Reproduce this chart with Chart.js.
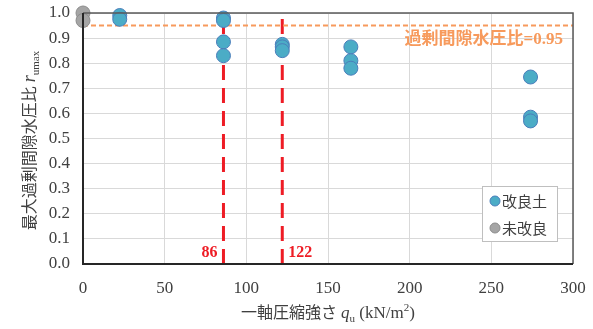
<!DOCTYPE html>
<html>
<head>
<meta charset="utf-8">
<script src="https://cdn.jsdelivr.net/npm/chart.js@4/dist/chart.umd.min.js"></script>
<style>
  html, body { margin: 0; padding: 0; background: #fff; }
  #wrap { width: 593px; height: 329px; position: relative; }
</style>
</head>
<body>
<div id="wrap"><canvas id="c"></canvas></div>
<script>
// データ
var qImproved = [22.5, 22.5, 86, 86, 86, 86, 122, 122, 122, 164, 164, 164, 274, 274, 274];
var rImproved = [0.99, 0.975, 0.98, 0.97, 0.885, 0.83, 0.875, 0.865, 0.85, 0.865, 0.81, 0.78, 0.745, 0.585, 0.57];
var qUnimproved = [0, 0];
var rUnimproved = [1.0, 0.97];
var seriesLabels = ['改良土', '未改良'];
var thresholdR = 0.95;
var markQ = [86, 122];
var xTicks = [0, 50, 100, 150, 200, 250, 300];
var yTicks = [0, 0.1, 0.2, 0.3, 0.4, 0.5, 0.6, 0.7, 0.8, 0.9, 1.0];

var SERIF = '"Liberation Serif", "Noto Sans CJK JP", serif';
var TXT = '#404040';
var BLUE = '#4bacc6', BLUE_B = '#4a7ebb';
var GRAY = '#a5a5a5', GRAY_B = '#8c8c8c';
var RED = '#ee1c25', ORANGE = '#f79a5c';

function pts(xs, ys) {
  return xs.map(function (x, i) { return { x: x, y: ys[i] }; });
}

// 軸タイトル・ラベル・凡例を描く
function drawRuns(ctx, runs, x, y, align) {
  var total = 0;
  runs.forEach(function (r) { ctx.font = r.font; total += ctx.measureText(r.t).width; });
  var cx = align === 'center' ? x - total / 2 : x;
  runs.forEach(function (r) {
    ctx.font = r.font;
    ctx.fillText(r.t, cx, y + (r.dy || 0));
    cx += ctx.measureText(r.t).width;
  });
}

var extras = {
  id: 'extras',
  afterDraw: function (chart) {
    var ctx = chart.ctx, a = chart.chartArea;
    var xs = chart.scales.x, ys = chart.scales.y;
    ctx.save();
    // 枠
    ctx.strokeStyle = '#595959';
    ctx.lineWidth = 1.5;
    ctx.beginPath();
    ctx.moveTo(a.left, a.top); ctx.lineTo(a.right, a.top); ctx.lineTo(a.right, a.bottom);
    ctx.stroke();
    ctx.strokeStyle = '#262626';
    ctx.lineWidth = 2;
    ctx.beginPath();
    ctx.moveTo(a.left, a.top); ctx.lineTo(a.left, a.bottom); ctx.lineTo(a.right, a.bottom);
    ctx.stroke();

    // 値ラベル
    ctx.textBaseline = 'middle';
    ctx.fillStyle = RED;
    ctx.font = 'bold 16px ' + SERIF;
    ctx.textAlign = 'right';
    ctx.fillText(String(markQ[0]), xs.getPixelForValue(markQ[0]) - 6, ys.getPixelForValue(0.045));
    ctx.textAlign = 'left';
    ctx.fillText(String(markQ[1]), xs.getPixelForValue(markQ[1]) + 6, ys.getPixelForValue(0.045));

    ctx.fillStyle = ORANGE;
    ctx.font = 'bold 17px ' + SERIF;
    ctx.textAlign = 'right';
    ctx.fillText('過剰間隙水圧比=' + thresholdR, a.right - 10, ys.getPixelForValue(0.895));

    // x軸タイトル
    ctx.fillStyle = TXT;
    ctx.textAlign = 'left';
    ctx.textBaseline = 'alphabetic';
    drawRuns(ctx, [
      { t: '一軸圧縮強さ ', font: '16px ' + SERIF },
      { t: 'q', font: 'italic 17px ' + SERIF },
      { t: 'u', font: '11px ' + SERIF, dy: 4 },
      { t: ' (kN/m', font: '17px ' + SERIF },
      { t: '2', font: '11px ' + SERIF, dy: -7 },
      { t: ')', font: '17px ' + SERIF }
    ], (a.left + a.right) / 2, 318, 'center');

    // y軸タイトル
    ctx.save();
    ctx.translate(35, (a.top + a.bottom) / 2 + 2);
    ctx.rotate(-Math.PI / 2);
    drawRuns(ctx, [
      { t: '最大過剰間隙水圧比 ', font: '16px ' + SERIF },
      { t: 'r', font: 'italic 18px ' + SERIF },
      { t: 'umax', font: '11px ' + SERIF, dy: 4 }
    ], 0, 0, 'center');
    ctx.restore();

    // 凡例
    var lx = 482, ly = 186, lw = 75, lh = 55;
    ctx.fillStyle = '#fff';
    ctx.fillRect(lx, ly, lw, lh);
    ctx.strokeStyle = '#bfbfbf';
    ctx.lineWidth = 1;
    ctx.strokeRect(lx + 0.5, ly + 0.5, lw, lh);
    var cols = [[BLUE, BLUE_B], [GRAY, GRAY_B]];
    seriesLabels.forEach(function (lab, i) {
      var yy = ly + 15 + i * 27;
      ctx.beginPath();
      ctx.arc(lx + 13, yy, 5, 0, Math.PI * 2);
      ctx.fillStyle = cols[i][0];
      ctx.fill();
      ctx.strokeStyle = cols[i][1];
      ctx.stroke();
      ctx.fillStyle = TXT;
      ctx.font = '15px "Noto Sans CJK JP", sans-serif';
      ctx.textAlign = 'left';
      ctx.textBaseline = 'middle';
      ctx.fillText(lab, lx + 20, yy);
    });
    ctx.restore();
  }
};

new Chart(document.getElementById('c'), {
  type: 'scatter',
  data: {
    datasets: [
      {
        label: seriesLabels[0], data: pts(qImproved, rImproved), order: 0,
        backgroundColor: BLUE, borderColor: BLUE_B, borderWidth: 1, pointRadius: 7, clip: false
      },
      {
        label: seriesLabels[1], data: pts(qUnimproved, rUnimproved), order: 1,
        backgroundColor: GRAY, borderColor: GRAY_B, borderWidth: 1, pointRadius: 7, clip: false
      },
      {
        type: 'line', label: 'thr', order: 5,
        data: [{ x: 0, y: thresholdR }, { x: 300, y: thresholdR }],
        borderColor: ORANGE, borderWidth: 2, borderDash: [5, 3], pointRadius: 0, showLine: true
      },
      {
        type: 'line', label: 'm1', order: 5,
        data: [{ x: markQ[0], y: 0 }, { x: markQ[0], y: 1 }],
        borderColor: RED, borderWidth: 3, borderDash: [15, 8], pointRadius: 0, showLine: true
      },
      {
        type: 'line', label: 'm2', order: 5,
        data: [{ x: markQ[1], y: 0 }, { x: markQ[1], y: 1 }],
        borderColor: RED, borderWidth: 3, borderDash: [15, 8], pointRadius: 0, showLine: true
      }
    ]
  },
  options: {
    responsive: true,
    maintainAspectRatio: false,
    animation: false,
    events: [],
    layout: { autoPadding: false, padding: { top: 13, right: 20, left: 0, bottom: 0 } },
    plugins: { legend: { display: false }, tooltip: { enabled: false } },
    scales: {
      x: {
        type: 'linear', min: 0, max: 300,
        afterBuildTicks: function (s) { s.ticks = xTicks.map(function (v) { return { value: v }; }); },
        afterFit: function (s) { s.height = 65; s.paddingLeft = 0; s.paddingRight = 0; },
        grid: { color: '#d9d9d9', lineWidth: 1, drawTicks: false },
        border: { display: false },
        ticks: { padding: 14, color: TXT, font: { family: SERIF, size: 17 }, maxRotation: 0 }
      },
      y: {
        type: 'linear', min: 0, max: 1,
        afterBuildTicks: function (s) { s.ticks = yTicks.map(function (v) { return { value: v }; }); },
        afterFit: function (s) { s.width = 83; s.paddingTop = 0; s.paddingBottom = 0; },
        grid: { color: '#d9d9d9', lineWidth: 1, drawTicks: false },
        border: { display: false },
        ticks: {
          padding: 13, color: TXT, font: { family: SERIF, size: 17 },
          callback: function (v) { return Number(v).toFixed(1); }
        }
      }
    }
  },
  plugins: [extras]
});
</script>
</body>
</html>
